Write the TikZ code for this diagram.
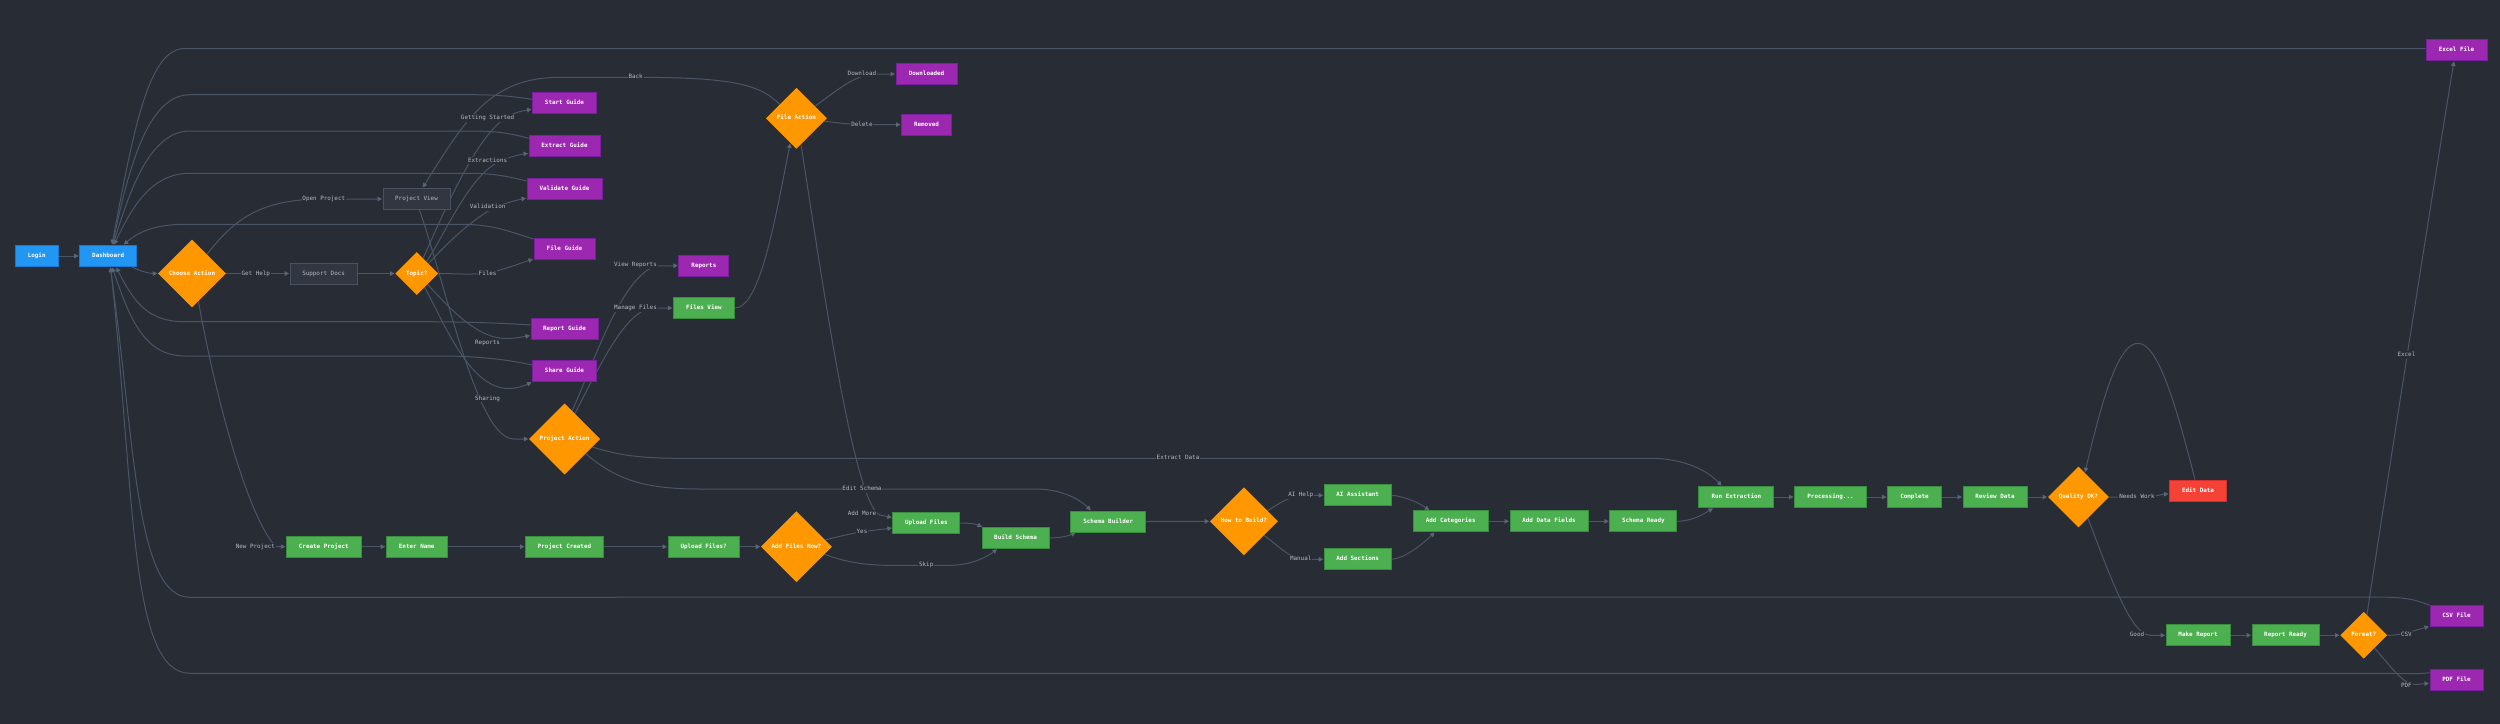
\documentclass[tikz,border=0pt]{standalone}
\usepackage{fontspec}
\setmonofont{DejaVu Sans Mono}
\usetikzlibrary{arrows.meta,shapes.geometric,backgrounds}
\definecolor{pagebg}{HTML}{282C34}
\definecolor{edgeclr}{HTML}{4A5568}
\definecolor{tipclr}{HTML}{5A6579}
\definecolor{lblclr}{HTML}{B4BAC6}
\tikzset{
	box/.style={rectangle,line width=1pt,minimum height=21pt,inner sep=0pt,text height=4.4pt,text depth=1.2pt,text=white,font=\ttfamily\bfseries\fontsize{5.9}{7}\selectfont},
	startbox/.style={box,fill={rgb,255:red,33;green,150;blue,243},draw={rgb,255:red,25;green,118;blue,210}},
	flowbox/.style={box,fill={rgb,255:red,76;green,175;blue,80},draw={rgb,255:red,56;green,142;blue,60}},
	docbox/.style={box,fill={rgb,255:red,156;green,39;blue,176},draw={rgb,255:red,123;green,31;blue,162}},
	errbox/.style={box,fill={rgb,255:red,244;green,67;blue,54},draw={rgb,255:red,211;green,47;blue,47}},
	viewbox/.style={box,fill={rgb,255:red,50;green,54;blue,64},draw={rgb,255:red,74;green,81;blue,96},text=lblclr,font=\ttfamily\fontsize{5.9}{7}\selectfont},
	ask/.style={diamond,aspect=1,inner sep=0pt,text height=4.4pt,text depth=1.2pt,fill={rgb,255:red,255;green,152;blue,0},text=white,font=\ttfamily\bfseries\fontsize{5.9}{7}\selectfont},
	lbl/.style={fill=pagebg,inner sep=0.8pt,text height=4.4pt,text depth=1.2pt,text=lblclr,font=\ttfamily\fontsize{5.9}{7}\selectfont},
	edge/.style={draw=edgeclr,line width=1pt,shorten >=0.5pt,-{Triangle[length=4.5pt,width=4.5pt,color=tipclr]}},
}
\begin{document}
\begin{tikzpicture}[x=1pt,y=-1pt]
	\useasboundingbox (0,0) rectangle (2500,723);

	\node[startbox,minimum width=43pt] (login) at (36.7,256) {Login};
	\node[startbox,minimum width=57pt] (dash) at (108.2,256) {Dashboard};
	\node[ask,minimum width=68pt,minimum height=68pt] (choose) at (192,273.5) {Choose Action};
	\node[viewbox,minimum width=67pt] (support) at (323.6,273.5) {Support Docs};
	\node[viewbox,minimum width=67pt] (projview) at (416.5,199) {Project View};
	\node[ask,minimum width=43pt,minimum height=43pt] (topic) at (416.7,273.5) {Topic?};

	\node[docbox,minimum width=64pt] (startg) at (564.5,103.2) {Start Guide};
	\node[docbox,minimum width=71pt] (extractg) at (564.5,146) {Extract Guide};
	\node[docbox,minimum width=75pt] (validg) at (564.5,188.5) {Validate Guide};
	\node[docbox,minimum width=61pt] (fileg) at (564.5,249) {File Guide};
	\node[docbox,minimum width=67pt] (reportg) at (564.5,328.5) {Report Guide};
	\node[docbox,minimum width=64pt] (shareg) at (564.5,371) {Share Guide};
	\node[ask,minimum width=71pt,minimum height=71pt] (projact) at (564.6,439) {Project Action};

	\node[docbox,minimum width=50pt] (reports) at (703.9,265.7) {Reports};
	\node[flowbox,minimum width=61pt] (filesview) at (703.9,308) {Files View};
	\node[ask,minimum width=61pt,minimum height=61pt] (fileact) at (796.4,118.3) {File Action};
	\node[docbox,minimum width=61pt] (downl) at (926.5,74) {Downloaded};
	\node[docbox,minimum width=50pt] (removed) at (926.5,124.7) {Removed};

	\node[flowbox,minimum width=75pt] (create) at (323.8,546.7) {Create Project};
	\node[flowbox,minimum width=61pt] (entername) at (416.7,546.7) {Enter Name};
	\node[flowbox,minimum width=78pt] (created) at (564.5,546.7) {Project Created};
	\node[flowbox,minimum width=71pt] (uploadq) at (703.6,546.7) {Upload Files?};
	\node[ask,minimum width=71pt,minimum height=71pt] (addnow) at (796.4,546.7) {Add Files Now?};
	\node[flowbox,minimum width=67pt] (upload) at (926.4,523) {Upload Files};
	\node[flowbox,minimum width=67pt] (build) at (1015.5,538) {Build Schema};
	\node[flowbox,minimum width=75pt] (builder) at (1108.2,521.5) {Schema Builder};
	\node[ask,minimum width=68pt,minimum height=68pt] (howq) at (1243.9,521.3) {How to Build?};
	\node[flowbox,minimum width=67pt] (aihelp) at (1357.7,495.3) {AI Assistant};
	\node[flowbox,minimum width=67pt] (sections) at (1357.7,559.3) {Add Sections};
	\node[flowbox,minimum width=75pt] (categ) at (1450.7,521.3) {Add Categories};
	\node[flowbox,minimum width=78pt] (fields) at (1549,521.3) {Add Data Fields};
	\node[flowbox,minimum width=67pt] (ready) at (1643.3,521.3) {Schema Ready};
	\node[flowbox,minimum width=75pt] (runex) at (1736.4,497) {Run Extraction};
	\node[flowbox,minimum width=72pt] (proc) at (1830.5,497) {Processing...};
	\node[flowbox,minimum width=54pt] (complete) at (1914.5,497) {Complete};
	\node[flowbox,minimum width=64pt] (review) at (1995,497) {Review Data};
	\node[ask,minimum width=61pt,minimum height=61pt] (quality) at (2078.4,497) {Quality OK?};
	\node[errbox,minimum width=57pt] (editd) at (2198,490.7) {Edit Data};
	\node[flowbox,minimum width=64pt] (makerep) at (2198,635.3) {Make Report};
	\node[flowbox,minimum width=67pt] (repready) at (2285.5,635.3) {Report Ready};
	\node[ask,minimum width=47pt,minimum height=47pt] (format) at (2363.7,635.3) {Format?};
	\node[docbox,minimum width=61pt] (excel) at (2456.5,50) {Excel File};
	\node[docbox,minimum width=53pt] (csv) at (2456.5,616.3) {CSV File};
	\node[docbox,minimum width=53pt] (pdf) at (2456.5,679.7) {PDF File};

	\node[lbl] (lopen) at (323.8,199) {Open Project};
	\node[lbl] (lhelp) at (255.8,273.5) {Get Help};
	\node[lbl] (lnew) at (255.4,546.7) {New Project};
	\node[lbl] (lstarted) at (487.6,118) {Getting Started};
	\node[lbl] (lextract) at (487.6,160.7) {Extractions};
	\node[lbl] (lvalid) at (487.6,207.3) {Validation};
	\node[lbl] (lfiles) at (487.6,273.5) {Files};
	\node[lbl] (lreports) at (487.6,343.3) {Reports};
	\node[lbl] (lsharing) at (487.6,398.7) {Sharing};
	\node[lbl] (lback) at (635.6,77.3) {Back};
	\node[lbl] (lview) at (635.5,265.3) {View Reports};
	\node[lbl] (lmanage) at (635.5,308) {Manage Files};
	\node[lbl] (ldownl) at (861.9,73.7) {Download};
	\node[lbl] (ldelete) at (861.9,124.7) {Delete};
	\node[lbl] (lschema) at (862,489) {Edit Schema};
	\node[lbl] (lmore) at (862,514) {Add More};
	\node[lbl] (lyes) at (862,531.7) {Yes};
	\node[lbl] (lskip) at (926.2,565.3) {Skip};
	\node[lbl] (ldata) at (1178,458.3) {Extract Data};
	\node[lbl] (lai) at (1300.7,495.3) {AI Help};
	\node[lbl] (lmanual) at (1300.7,559) {Manual};
	\node[lbl] (lwork) at (2137,497) {Needs Work};
	\node[lbl] (lgood) at (2137,635) {Good};
	\node[lbl] (lcsv) at (2406.4,635) {CSV};
	\node[lbl] (lpdf) at (2406.4,685.7) {PDF};
	\node[lbl] (lexcel) at (2406.4,355) {Excel};

	\begin{scope}[on background layer]
		\fill[pagebg] (-5,-5) rectangle (2505,728);

		\draw[edge] (login) -- (dash);
		\draw[edge] ([yshift=-11pt,xshift=24pt]dash.center) .. controls (142,272) and (150,273.5) .. (choose.west);
		\draw[edge] (choose.52) .. controls (235,218) and (262,199) .. (lopen.center) -- (projview.west);
		\draw[edge] (choose.east) -- (support.west);
		\draw[edge] (choose.-77) .. controls (218,410) and (250,520) .. (lnew.east) -- (create.west);
		\draw[edge] (support.east) -- (topic.west);

		\draw[edge] (topic.67) .. controls (447,205) and (475,140) .. (505,118) .. controls (512,113) and (522,111) .. ([yshift=-6pt]startg.west);
		\draw[edge] (topic.50) .. controls (450,225) and (472,170) .. (505,159) .. controls (512,156.5) and (520,154.5) .. ([yshift=-7.3pt]extractg.west);
		\draw[edge] (topic.40) .. controls (450,240) and (470,222) .. (490,210) .. controls (500,205) and (512,201) .. ([yshift=-9.6pt]validg.west);
		\draw[edge] (topic.east) .. controls (455,273.5) and (470,275) .. (487.6,273) .. controls (503,270) and (518,264) .. ([yshift=-10pt]fileg.west);
		\draw[edge] (topic.-45) .. controls (445,303) and (475,338) .. (505,338.5) .. controls (513,338.5) and (522,337) .. ([yshift=-7pt]reportg.west);
		\draw[edge] (topic.-60) .. controls (445,325) and (470,388) .. (508,388.5) .. controls (516,388.5) and (524,386) .. ([yshift=-11pt]shareg.west);

		\draw[edge] ([xshift=3pt]projview.south) .. controls (450,300) and (478,439) .. (514,439) -- (projact.west);
		\draw[edge] (projact.75) .. controls (595,360) and (620,280) .. (655,266) -- (reports.west);
		\draw[edge] (projact.68) .. controls (605,355) and (625,315) .. (650,308) -- (filesview.west);
		\draw[edge] (filesview.east) .. controls (760,308) and (775,220) .. (fileact.-104);

		\draw[edge] (fileact.140) .. controls (760,85) and (735,77.3) .. (lback.center) -- (560,77.3) .. controls (490,77.3) and (465,120) .. ([xshift=6pt]projview.north);
		\draw[edge] (fileact.33) .. controls (835,92) and (855,74) .. (875,74) -- (downl.west);
		\draw[edge] (fileact.-6) .. controls (840,123) and (850,124.7) .. (870,124.7) -- (removed.west);
		\draw[edge] (fileact.-80) .. controls (825,300) and (855,505) .. (880,515) -- ([yshift=5.3pt]upload.west);

		\draw[edge] (projact.-35) .. controls (615,478) and (640,489) .. (700,489) -- (1035,489) .. controls (1060,489) and (1078,498) .. ([xshift=-17pt]builder.north);
		\draw[edge] (projact.-16) .. controls (615,454) and (635,458.3) .. (680,458.3) -- (1650,458.3) .. controls (1680,458.3) and (1705,468) .. ([xshift=-14.5pt]runex.north);

		\draw[edge] (create) -- (entername);
		\draw[edge] (entername) -- (created);
		\draw[edge] (created) -- (uploadq);
		\draw[edge] (uploadq) -- (addnow.west);
		\draw[edge] (addnow.13) .. controls (838,536.5) and (850,534) .. (862,531.7) -- ([yshift=-5pt]upload.west);
		\draw[edge] (addnow.-15) .. controls (845,562) and (865,565.3) .. (890,565.3) -- (950,565.3) .. controls (970,565.3) and (985,558) .. ([xshift=-18pt]build.south);
		\draw[edge] (upload.east) .. controls (970,523) and (976,524) .. ([xshift=-33pt]build.north);
		\draw[edge] (build.east) .. controls (1060,538) and (1068,536) .. ([xshift=-32pt]builder.south);
		\draw[edge] (builder.east) -- (howq.west);
		\draw[edge] (howq.24) .. controls (1280,503) and (1290,495.3) .. (1305,495.3) -- (aihelp.west);
		\draw[edge] (howq.-35) .. controls (1280,547) and (1290,559) .. (1305,559.3) -- (sections.west);
		\draw[edge] (aihelp.east) .. controls (1402,496) and (1416,501) .. ([xshift=-21pt]categ.north);
		\draw[edge] (sections.east) .. controls (1405,558) and (1420,546) .. ([xshift=-15.7pt]categ.south);
		\draw[edge] (categ) -- (fields);
		\draw[edge] (fields) -- (ready);
		\draw[edge] (ready.east) .. controls (1692,521) and (1702,515) .. ([xshift=-23pt]runex.south);
		\draw[edge] (runex) -- (proc);
		\draw[edge] (proc) -- (complete);
		\draw[edge] (complete) -- (review);
		\draw[edge] (review) -- (quality.west);

		\draw[edge] (quality.east) -- (2150,497) .. controls (2155,496) and (2162,494.5) .. ([yshift=-3pt]editd.west);
		\draw[edge] ([xshift=-3pt]editd.north) .. controls (2176,405) and (2158,343.3) .. (2138,343.3) .. controls (2118,343.3) and (2102,400) .. (quality.75);
		\draw[edge] (quality.-66) .. controls (2108,570) and (2130,635) .. (2150,635.3) -- (makerep.west);
		\draw[edge] (makerep) -- (repready);
		\draw[edge] (repready) -- (format.west);
		\draw[edge] (format.81) .. controls (2385,495) and (2436,170) .. ([xshift=-2.5pt]excel.south);
		\draw[edge] (format.east) .. controls (2400,635.3) and (2410,632) .. ([yshift=-10pt]csv.west);
		\draw[edge] (format.-50) .. controls (2390,665) and (2402,684) .. (2415,684.5) -- ([yshift=-3.6pt]pdf.west);

		\draw[edge] ([yshift=1.3pt]excel.west) -- (185,48.5) .. controls (150,48.5) and (135,120) .. ([xshift=3.8pt]dash.north);
		\draw[edge] ([yshift=3.9pt]startg.west) .. controls (510,96) and (495,94.7) .. (470,94.7) -- (190,94.7) .. controls (150,94.7) and (130,160) .. ([xshift=4.3pt]dash.north);
		\draw[edge] ([yshift=7.7pt]extractg.west) .. controls (510,133) and (495,131) .. (470,131) -- (190,131) .. controls (150,131) and (130,190) .. ([xshift=4.8pt]dash.north);
		\draw[edge] ([yshift=7.5pt]validg.west) .. controls (510,177) and (495,173.3) .. (470,173.3) -- (190,173.3) .. controls (155,173.3) and (135,200) .. ([xshift=5.8pt]dash.north);
		\draw[edge] ([yshift=10pt]fileg.west) .. controls (510,232) and (495,224.3) .. (460,224.3) -- (185,224.3) .. controls (155,224.3) and (138,232) .. ([xshift=15.3pt]dash.north);
		\draw[edge] ([yshift=3.5pt]reportg.west) .. controls (510,323.5) and (470,321.7) .. (420,321.7) -- (185,321.7) .. controls (150,321.7) and (135,305) .. ([xshift=8pt]dash.south);
		\draw[edge] ([yshift=6pt]shareg.west) .. controls (510,360) and (480,356) .. (440,356) -- (185,356) .. controls (145,356) and (130,320) .. ([xshift=4pt]dash.south);
		\draw[edge] (csv.north west) .. controls (2410,597) and (2395,597) .. (2368,597) -- (190,597.3) .. controls (135,597.3) and (135,440) .. ([xshift=2pt]dash.south);
		\draw[edge] ([yshift=-4pt]pdf.north west) .. controls (2415,674.5) and (2400,673.3) .. (2380,673.3) -- (190,673.3) .. controls (130,673.3) and (135,500) .. ([xshift=2.5pt]dash.south);
	\end{scope}
\end{tikzpicture}
\end{document}
